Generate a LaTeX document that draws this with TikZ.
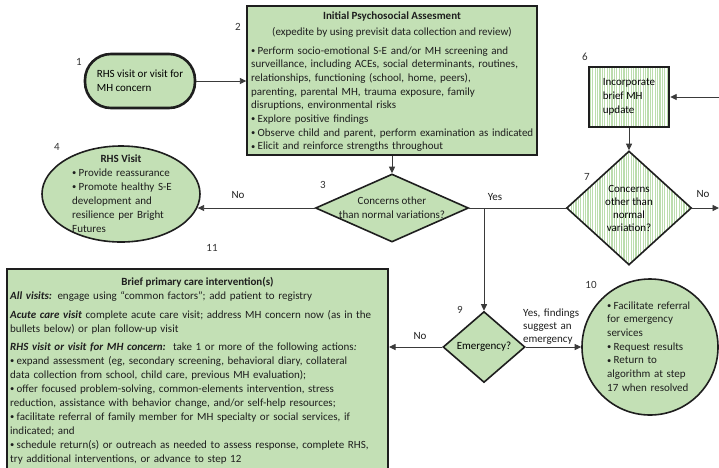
\documentclass[tikz,border=0pt]{standalone}
\usepackage{fontspec}
\setmainfont{Carlito}
\usetikzlibrary{shapes.geometric,arrows.meta,patterns.meta}
\definecolor{gfill}{HTML}{C3E0B5}
\definecolor{hatch}{HTML}{BCDDAE}
\definecolor{ink}{HTML}{1E1E1E}
\definecolor{lnk}{HTML}{3A3A3A}
\definecolor{numc}{HTML}{333333}
\newcommand{\smallbul}{\raisebox{0.6pt}{\fontsize{8.5}{8.5}\selectfont\textbullet}}
\newcommand{\bitem}[1]{\noindent\hangindent=6.5pt\hangafter=1\makebox[6.5pt][l]{\smallbul}#1}
\tikzset{
  shp/.style={draw=ink,fill=gfill,inner sep=0pt},
  stad/.style={shp,line width=2.6pt,rounded corners=26pt,minimum width=110pt,minimum height=54pt,align=left},
  boxx/.style={shp,rectangle,line width=1.4pt},
  hatched/.style={draw=ink,inner sep=0pt,preaction={fill=white},
    pattern={Lines[angle=90,distance=2.4pt,line width=1.1pt]},pattern color=hatch},
  dia/.style={shp,diamond,line width=1.6pt},
  txt/.style={inner sep=0pt,text=ink},
  para/.style={txt,align=left},
  num/.style={inner sep=0pt,text=numc},
  arr/.style={draw=lnk,line width=0.9pt,-{Triangle[length=6.5pt,width=6pt]}},
  ln/.style={draw=lnk,line width=0.9pt},
}
\begin{document}
\begin{tikzpicture}[x=1pt,y=-1pt,font=\fontsize{11}{13.7}\selectfont]
\useasboundingbox (0,0) rectangle (719,467);
\fill[white] (0,0) rectangle (719,467);

% shapes
\node[stad] (n1) at (140,81) {RHS visit or visit for\\MH concern};
\node[boxx,minimum width=290pt,minimum height=149pt] (n2) at (392,80.5) {};
\node[dia,minimum width=153pt,minimum height=68pt] (d3) at (392,208) {};
\node[shp,ellipse,line width=1.6pt,minimum width=158pt,minimum height=96pt] (n4) at (121,194) {};
\node[hatched,rectangle,line width=2.4pt,minimum width=80pt,minimum height=60pt,align=left] (n6) at (629,97) {Incorporate\\brief MH\\update};
\node[hatched,diamond,line width=1.6pt,minimum width=125pt,minimum height=114pt,align=center,font=\fontsize{11}{13}\selectfont] (d7) at (629,208) {Concerns\\other than\\normal\\variation?};
\node[dia,minimum width=82pt,minimum height=71pt] (d9) at (484,347) {Emergency?};
\node[shp,circle,line width=1.6pt,minimum size=136pt] (n10) at (650,347) {};
\node[boxx,line width=2pt,minimum width=381pt,minimum height=215pt] (n11) at (197.5,376.5) {};

% texts
\node[txt,anchor=base,font=\fontsize{11}{13.7}\bfseries] (t2a) at (392,19) {Initial Psychosocial Assesment};
\node[txt,anchor=base] (t2b) at (392,35) {(expedite by using previsit data collection and review)};
\node[para,anchor=base west,text width=290pt] (t2c) at (251,54) {%
\bitem{Perform socio-emotional S-E and/or MH screening and\\surveillance, including ACEs, social determinants, routines,\\relationships, functioning (school, home, peers),\\parenting, parental MH, trauma exposure, family\\disruptions, environmental risks}\par
\bitem{Explore positive findings}\par
\bitem{Observe child and parent, perform examination as indicated}\par
\bitem{Elicit and reinforce strengths throughout}};

\node[txt,align=center] (t3) at (392,207.5) {Concerns other\\than normal variations?};

\node[txt,anchor=base,font=\fontsize{11}{13.7}\bfseries] (t4a) at (121,162) {RHS Visit};
\node[para,anchor=base west,text width=130pt,font=\fontsize{11}{14}\selectfont] (t4b) at (72,176) {%
\bitem{Provide reassurance}\par
\bitem{Promote healthy S-E\\development and\\resilience per Bright\\Futures}};

\node[para,anchor=base west,text width=120pt,font=\fontsize{11}{13.7}\selectfont] (t10) at (607,309) {%
\bitem{Facilitate referral\\for emergency\\services}\par
\bitem{Request results}\par
\bitem{Return to\\algorithm at step\\17 when resolved}};

\node[txt,anchor=base,font=\fontsize{11}{13.7}\bfseries] (t11a) at (197.5,285) {Brief primary care intervention(s)};
\node[para,anchor=base west,text width=378pt,font=\fontsize{11}{14}\selectfont] (t11b) at (10,299) {%
\textbf{\textit{All visits:}} engage using “common factors”; add patient to registry\par\vspace{5pt}
\noindent\textbf{\textit{Acute care visit}} complete acute care visit; address MH concern now (as in the\\bullets below) or plan follow-up visit\par\vspace{4pt}
\noindent\textbf{\textit{RHS visit or visit for MH concern:}}\ \ take 1 or more of the following actions\textit{:}\par
\bitem{expand assessment (eg, secondary screening, behavioral diary, collateral\\data collection from school, child care, previous MH evaluation);}\par
\bitem{offer focused problem-solving, common-elements intervention, stress\\reduction, assistance with behavior change, and/or self-help resources;}\par
\bitem{facilitate referral of family member for MH specialty or social services, if\\indicated; and}\par
\bitem{schedule return(s) or outreach as needed to assess response, complete RHS,\\try additional interventions, or advance to step 12}};

% step numbers
\node[num] (l1) at (79,62) {1};
\node[num] (l2) at (238,27) {2};
\node[num] (l3) at (323,185) {3};
\node[num] (l4) at (57,147) {4};
\node[num] (l6) at (585,57) {6};
\node[num] (l7) at (587,177) {7};
\node[num] (l9) at (460,310) {9};
\node[num] (l10) at (591,285) {10};
\node[num] (l11) at (212,248) {11};

% connectors
\coordinate (j9) at (d9.north |- d3.east);
\coordinate (in6) at (722,97);
\coordinate (out7) at (719,208);
\draw[arr] (n1.east) -- (n1.east -| n2.west);
\draw[arr] (n2.south) -- (d3.north);
\draw[arr] (d3.west) -- (d3.west -| n4.-10.5);
\draw[ln] (d3.east) -- (d7.west);
\draw[arr] (j9) -- (d9.north);
\draw[arr] (in6) -- (n6.east);
\draw[arr] (n6.south) -- (d7.north);
\draw[arr] (d7.east) -- (out7);
\draw[arr] (d9.west) -- (d9.west -| n11.east);
\draw[arr] (d9.east) -- (n10.west);

% connector labels
\node[txt] (no3) at (238,195) {No};
\node[txt] (yes3) at (495,197) {Yes};
\node[txt] (no7) at (703,194) {No};
\node[txt] (no9) at (420,336) {No};
\node[para,anchor=base west,text width=70pt,font=\fontsize{11}{13}\selectfont] (yes9) at (523,316) {Yes, findings\\suggest an\\emergency};
\end{tikzpicture}
\end{document}
